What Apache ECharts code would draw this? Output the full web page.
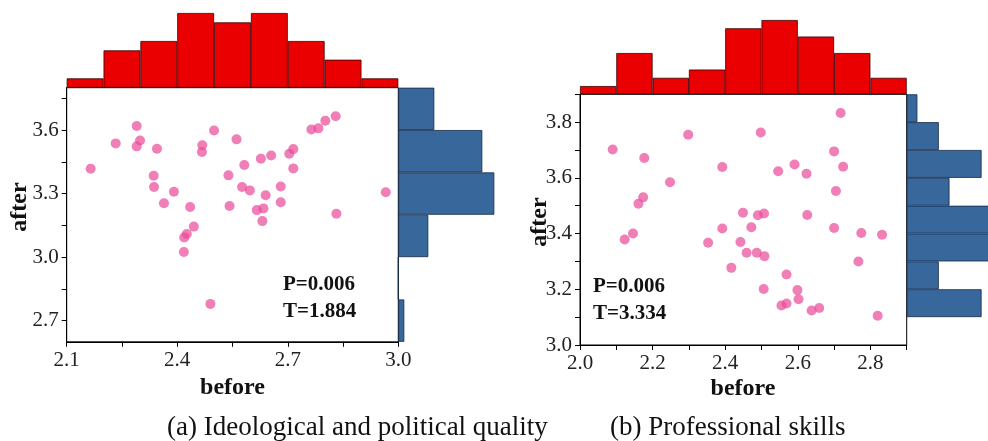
<!DOCTYPE html>
<html>
<head>
<meta charset="utf-8">
<script src="https://cdn.jsdelivr.net/npm/echarts@6/dist/echarts.min.js"></script>
<style>
html, body { margin: 0; padding: 0; background: #fff; }
#main { width: 988px; height: 441px; }
</style>
</head>
<body>
<div id="main"></div>
<script>
// (a) ideological and political quality
var beforeA = [2.165, 2.233, 2.290, 2.299, 2.290, 2.345, 2.336, 2.337, 2.391, 2.364, 2.435, 2.445, 2.426, 2.419,
	2.418, 2.490, 2.468, 2.467, 2.500, 2.561, 2.539, 2.582, 2.542, 2.576, 2.597, 2.627, 2.655, 2.640, 2.616,
	2.634, 2.631, 2.681, 2.681, 2.704, 2.715, 2.715, 2.764, 2.783, 2.802, 2.830, 2.832, 2.966];
var afterA = [3.417, 3.537, 3.619, 3.551, 3.523, 3.512, 3.384, 3.331, 3.309, 3.254, 3.237, 3.144, 3.109, 3.093,
	3.024, 2.779, 3.528, 3.496, 3.598, 3.556, 3.386, 3.435, 3.241, 3.331, 3.315, 3.465, 3.480, 3.292, 3.222,
	3.230, 3.170, 3.333, 3.259, 3.488, 3.510, 3.419, 3.603, 3.608, 3.644, 3.665, 3.205, 3.306];
var histBeforeA = [1, 4, 5, 8, 7, 8, 5, 3, 1];          // bins 2.1-3.0 step 0.1
var histAfterA = [1, 0, 5, 16, 14, 6];                  // bins 2.6-3.8 step 0.2, from bottom
// (b) professional skills
var beforeB = [2.090, 2.123, 2.146, 2.161, 2.174, 2.177, 2.248, 2.298, 2.353, 2.392, 2.392, 2.417, 2.442, 2.449,
	2.459, 2.472, 2.487, 2.490, 2.498, 2.507, 2.508, 2.506, 2.546, 2.555, 2.569, 2.569, 2.591, 2.599, 2.602,
	2.624, 2.626, 2.638, 2.659, 2.700, 2.718, 2.725, 2.705, 2.700, 2.767, 2.775, 2.820, 2.832];
var afterB = [3.702, 3.379, 3.400, 3.507, 3.530, 3.671, 3.584, 3.755, 3.367, 3.639, 3.418, 3.277, 3.370, 3.475,
	3.331, 3.423, 3.331, 3.466, 3.763, 3.472, 3.319, 3.201, 3.624, 3.142, 3.253, 3.149, 3.648, 3.197, 3.164,
	3.615, 3.467, 3.124, 3.133, 3.695, 3.833, 3.640, 3.553, 3.420, 3.300, 3.402, 3.105, 3.396];
var histBeforeB = [1, 5, 2, 3, 8, 9, 7, 5, 2];          // bins 2.0-2.9 step 0.1
var histAfterB = [7, 3, 8, 9, 4, 7, 3, 1];              // bins 3.1-3.9 step 0.1, from bottom

var ticksXA = [2.1, 2.25, 2.4, 2.55, 2.7, 2.85, 3.0];
var labelsXA = [2.1, 2.4, 2.7, 3.0];
var ticksYA = [2.7, 2.85, 3.0, 3.15, 3.3, 3.45, 3.6, 3.75];
var labelsYA = [2.7, 3.0, 3.3, 3.6];
var ticksXB = [2.0, 2.1, 2.2, 2.3, 2.4, 2.5, 2.6, 2.7, 2.8, 2.9];
var labelsXB = [2.0, 2.2, 2.4, 2.6, 2.8];
var ticksYB = [3.0, 3.1, 3.2, 3.3, 3.4, 3.5, 3.6, 3.7, 3.8, 3.9];
var labelsYB = [3.0, 3.2, 3.4, 3.6, 3.8];

var serif = 'Liberation Serif';
var red = '#ea0000';
var blue = '#38679b';
var pink = 'rgba(234, 72, 152, 0.88)';

function pairs(xs, ys) {
	var out = [];
	for(var i = 0; i < xs.length; i++) out.push([xs[i], ys[i]]);
	return out;
}
function idx(n) {
	var out = [];
	for(var i = 0; i < n; i++) out.push('b' + i);
	return out;
}
function valAxis(grid, min, max, ticks, labels, pos) {
	return {
		type: 'value', gridIndex: grid, min: min, max: max, position: pos,
		axisLine: { show: true, lineStyle: { color: '#000', width: 1 } },
		axisTick: { show: true, length: 5, customValues: ticks, lineStyle: { color: '#000' } },
		axisLabel: {
			customValues: labels, margin: 8, color: '#222', fontFamily: serif, fontSize: 21,
			formatter: function(v) { return v.toFixed(1); }
		},
		splitLine: { show: false }
	};
}
function hiddenVal(grid, max) {
	return { type: 'value', gridIndex: grid, min: 0, max: max, show: false, splitLine: { show: false } };
}
function hiddenCat(grid, n) {
	return { type: 'category', gridIndex: grid, data: idx(n), show: false, boundaryGap: true };
}
function barStyle(c, b) {
	return { color: c, borderColor: b, borderWidth: 0.8 };
}

var myChart = echarts.init(document.getElementById('main'));
var option = {
	animation: false,
	backgroundColor: '#fff',
	grid: [
		{ left: 66.7, top: 87.7, width: 331.6, height: 254.1, show: true, borderColor: '#000', borderWidth: 1 },
		{ left: 66.7, top: 13, width: 331.6, height: 74.7 },
		{ left: 398.3, top: 87.7, width: 96, height: 254.1 },
		{ left: 580, top: 94.3, width: 326.7, height: 250.7, show: true, borderColor: '#000', borderWidth: 1 },
		{ left: 580, top: 20, width: 326.7, height: 74.3 },
		{ left: 906.7, top: 94.3, width: 81.3, height: 222.8 }
	],
	xAxis: [
		valAxis(0, 2.1, 3.0, ticksXA, labelsXA, 'bottom'),
		hiddenCat(1, histBeforeA.length),
		hiddenVal(2, 16),
		valAxis(3, 2.0, 2.9, ticksXB, labelsXB, 'bottom'),
		hiddenCat(4, histBeforeB.length),
		hiddenVal(5, 7.6)
	],
	yAxis: [
		valAxis(0, 2.6, 3.8, ticksYA, labelsYA, 'left'),
		hiddenVal(1, 8),
		hiddenCat(2, histAfterA.length),
		valAxis(3, 3.0, 3.9, ticksYB, labelsYB, 'left'),
		hiddenVal(4, 9),
		hiddenCat(5, histAfterB.length)
	],
	series: [
		{ type: 'scatter', xAxisIndex: 0, yAxisIndex: 0, data: pairs(beforeA, afterA), symbolSize: 10, itemStyle: { color: pink } },
		{ type: 'bar', xAxisIndex: 1, yAxisIndex: 1, data: histBeforeA, barCategoryGap: '0%', itemStyle: barStyle(red, '#3a0000') },
		{ type: 'bar', xAxisIndex: 2, yAxisIndex: 2, data: histAfterA, barCategoryGap: '0%', itemStyle: barStyle(blue, '#142a48') },
		{ type: 'scatter', xAxisIndex: 3, yAxisIndex: 3, data: pairs(beforeB, afterB), symbolSize: 10, itemStyle: { color: pink } },
		{ type: 'bar', xAxisIndex: 4, yAxisIndex: 4, data: histBeforeB, barCategoryGap: '0%', itemStyle: barStyle(red, '#3a0000') },
		{ type: 'bar', xAxisIndex: 5, yAxisIndex: 5, data: histAfterB, barCategoryGap: '0%', clip: false, itemStyle: barStyle(blue, '#142a48') }
	],
	graphic: [
		{ type: 'text', x: 232.5, y: 388, style: { text: 'before', align: 'center', verticalAlign: 'middle', font: 'bold 24px "Liberation Serif"', fill: '#111' } },
		{ type: 'text', x: 743, y: 389, style: { text: 'before', align: 'center', verticalAlign: 'middle', font: 'bold 24px "Liberation Serif"', fill: '#111' } },
		{ type: 'text', x: 20, y: 207, rotation: Math.PI / 2, style: { text: 'after', align: 'center', verticalAlign: 'middle', font: 'bold 24px "Liberation Serif"', fill: '#111' } },
		{ type: 'text', x: 540, y: 222, rotation: Math.PI / 2, style: { text: 'after', align: 'center', verticalAlign: 'middle', font: 'bold 24px "Liberation Serif"', fill: '#111' } },
		{ type: 'text', x: 283, y: 285, style: { text: 'P=0.006', verticalAlign: 'middle', font: 'bold 21px "Liberation Serif"', fill: '#111' } },
		{ type: 'text', x: 283, y: 312, style: { text: 'T=1.884', verticalAlign: 'middle', font: 'bold 21px "Liberation Serif"', fill: '#111' } },
		{ type: 'text', x: 593, y: 287, style: { text: 'P=0.006', verticalAlign: 'middle', font: 'bold 21px "Liberation Serif"', fill: '#111' } },
		{ type: 'text', x: 593, y: 314, style: { text: 'T=3.334', verticalAlign: 'middle', font: 'bold 21px "Liberation Serif"', fill: '#111' } },
		{ type: 'text', x: 167, y: 428, style: { text: '(a) Ideological and political quality', verticalAlign: 'middle', font: '27px "Liberation Serif"', fill: '#111' } },
		{ type: 'text', x: 610, y: 428, style: { text: '(b) Professional skills', verticalAlign: 'middle', font: '27px "Liberation Serif"', fill: '#111' } }
	]
};
myChart.setOption(option);
</script>
</body>
</html>
